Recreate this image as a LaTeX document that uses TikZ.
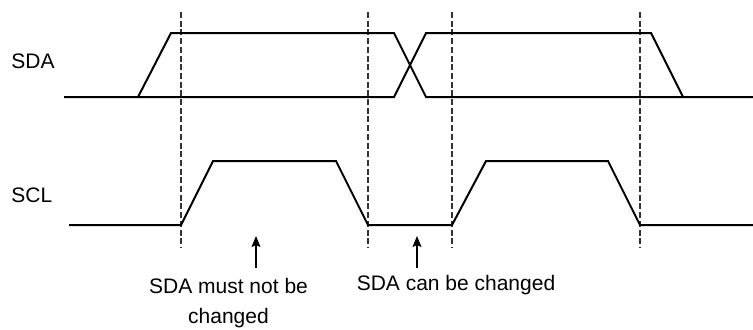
\documentclass[tikz,border=0pt]{standalone}
\usepackage{fontspec}
\setmainfont{Liberation Sans}
\usetikzlibrary{positioning, arrows.meta}
\tikzstyle{wave} = [line width=1pt, line join=miter, black]
\tikzstyle{guide} = [line width=0.55pt, black!80, dash pattern=on 3pt off 1.35pt]
\tikzstyle{pointer} = [line width=0.6pt, -{Stealth[length=5.5pt, width=4.5pt, inset=1pt]}]
\tikzstyle{label} = [inner sep=0pt, font=\fontsize{10.5}{15}\selectfont]

\begin{document}
\begin{tikzpicture}[x=0.5pt, y=-0.5pt]
		\useasboundingbox (0,0) rectangle (753,329);
		
		% Signal names
		\node (sdaname) [label, anchor=base west] at (11,68) {SDA};
		\node (sclname) [label, anchor=base west] at (11,202) {SCL};
		
		% Sampling marks
		\draw [guide] (181,12) -- (181,247);
		\draw [guide] (368,12) -- (368,247);
		\draw [guide] (452,12) -- (452,247);
		\draw [guide] (640,12) -- (640,247);
		
		% SDA (two crossing levels)
		\draw [wave] (64,97) -- (138,97) -- (171,33) -- (394,33) -- (426,97) -- (753,97);
		\draw [wave] (138,97) -- (394,97) -- (426,33) -- (651,33) -- (683,97);
		
		% SCL
		\draw [wave] (69,225) -- (181,225) -- (213,161) -- (336,161) -- (368,225) -- (452,225) -- (486,161) -- (608,161) -- (640,225) -- (753,225);
		
		% Notes
		\node (mustnot) [label, align=center] at (228.5,303) {SDA must not be\\changed};
		\node (canchange) [label, anchor=base] at (456,290) {SDA can be changed};
		\coordinate (mustnottip) at (256,236);
		\coordinate (mustnottail) at (256,268);
		\coordinate (canchangetip) at (417,236);
		\coordinate (canchangetail) at (417,268);
		
		% Arrows
		\draw [pointer] (mustnottail) -- (mustnottip);
		\draw [pointer] (canchangetail) -- (canchangetip);
		
	\end{tikzpicture}
\end{document}
